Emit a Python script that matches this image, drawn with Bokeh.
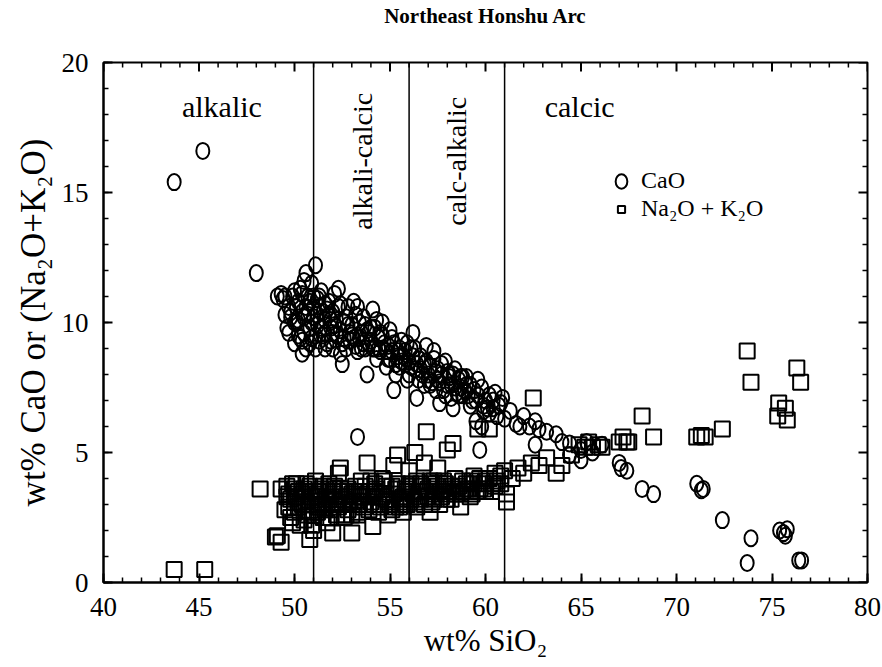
from bokeh.plotting import figure
from bokeh.models import (Span, Label, SingleIntervalTicker, FixedTicker, LinearAxis, Legend, LegendItem,
                          Range1d, ColumnDataSource)
from bokeh.embed import file_html
from bokeh.resources import INLINE

# ---------------- data ----------------
title_text = "Northeast Honshu Arc"
boundaries = [51, 56, 61]
region_names = ["alkalic", "alkali-calcic", "calc-alkalic", "calcic"]

cao_sio2 = [43.7, 45.2, 48.0,
            49.1, 49.3, 49.5, 49.4, 49.7, 49.8, 49.6, 50.0, 50.1, 50.2, 50.3, 50.5, 50.6, 50.4, 50.5, 50.6, 50.4,
            50.8, 50.9, 51.1, 51.0, 50.9, 51.1, 51.2, 51.3, 51.4, 51.5, 51.6, 51.8, 51.7, 51.9, 52.0, 52.1, 52.3,
            52.2, 52.4, 52.5, 52.6, 52.8, 52.9, 53.0, 53.2, 53.3, 53.5, 53.6, 53.8, 53.9, 54.1, 54.0, 54.3, 54.4,
            54.6, 54.8, 54.9, 55.0, 55.2, 55.3, 55.4, 55.6, 55.8, 55.9, 56.1, 56.2, 56.3, 56.4, 56.6, 56.8, 56.9,
            57.1, 57.3, 57.4, 57.6, 57.7, 57.9, 58.0, 58.2, 58.3, 58.4, 58.6, 58.8, 59.0, 59.2, 59.4, 59.6, 59.5,
            59.8, 60.0, 60.2, 60.5, 60.7, 60.9, 61.0, 61.3, 61.6, 62.0, 62.3, 62.6, 62.8, 62.6, 63.2, 63.7, 64.0,
            64.4, 64.4, 65.0, 65.3, 65.0, 65.6, 66.1, 67.0, 67.1, 67.4, 68.2, 68.8, 71.06, 71.3, 71.4, 72.4, 73.9,
            73.7, 75.4, 75.6, 75.8, 75.7, 76.4, 76.55, 53.3, 59.7,
            50.2, 50.7, 51.0, 51.3, 51.6, 51.9, 52.4, 52.7, 53.1, 53.4, 53.7, 54.2, 54.5, 55.1, 55.5, 56.0, 56.5,
            57.0, 57.5, 58.1, 58.7, 59.1, 59.9, 60.4, 61.8,
            49.8, 50.0, 50.2, 50.4, 50.6, 50.8, 51.0, 51.2, 51.4, 51.6, 51.8, 52.0, 52.2, 52.4, 52.6, 52.8, 53.0,
            53.2, 53.4, 53.6, 53.8, 54.0, 54.2, 54.4, 54.6, 54.8, 55.0, 55.2, 55.4, 55.6, 55.8, 56.0, 56.2, 56.4,
            56.6, 56.8, 57.0, 57.2, 57.4, 57.6, 57.8, 58.0, 58.2, 58.4, 58.6, 58.8, 59.0, 59.3, 59.6, 59.9, 60.2,
            60.6,
            49.5, 49.7, 49.9, 50.1, 50.3, 50.5, 50.7, 50.9, 51.1, 51.3, 51.5, 51.7, 51.9, 52.1, 52.3, 52.5, 52.7,
            52.9, 53.1, 53.3, 53.5, 53.7, 53.9, 54.1, 54.3, 54.5, 54.7, 54.9, 55.1, 55.3, 55.5, 55.7, 55.9, 56.1,
            56.3, 56.5, 56.7, 56.9, 57.1, 57.3, 57.5, 57.7, 57.9, 58.1, 58.3, 58.5, 58.7, 58.9, 59.2, 59.5, 59.8,
            60.1, 60.4, 60.8, 50.0, 50.4, 50.8, 51.2, 51.6, 52.0]
cao_wt = [15.4, 16.6, 11.9,
          11.0, 11.1, 11.0, 10.9, 10.6, 10.2, 9.8, 9.2, 10.0, 10.8, 11.3, 11.6, 11.9, 10.4, 9.6, 9.0, 8.8,
          10.8, 11.5, 12.2, 10.2, 9.4, 9.0, 9.9, 10.6, 11.2, 9.5, 10.1, 10.8, 9.2, 9.8, 10.4, 11.1, 11.3,
          9.5, 8.8, 8.4, 10.0, 10.6, 9.3, 9.9, 10.3, 8.9, 9.6, 10.2, 8.0, 9.2, 10.5, 9.8, 8.6, 9.4,
          10.0, 8.3, 9.1, 9.7, 7.4, 8.0, 8.7, 9.3, 8.4, 7.8, 9.0, 9.6, 8.2, 7.1, 8.7, 7.6, 9.1,
          8.3, 8.9, 7.4, 6.9, 8.0, 8.5, 7.6, 7.1, 6.7, 8.2, 7.8, 7.2, 7.9, 6.8, 7.4, 7.8, 6.2,
          6.0, 7.0, 6.5, 7.3, 6.8, 7.1, 6.3, 6.6, 6.1, 6.4, 6.0, 6.2, 5.9, 5.3, 5.8, 5.7, 5.4,
          5.35, 4.9, 5.1, 5.4, 4.7, 5.0, 5.3, 4.6, 4.4, 4.3, 3.6, 3.4, 3.8, 3.55, 3.6, 2.4, 1.7,
          0.75, 2.0, 1.9, 2.05, 1.8, 0.85, 0.85, 5.6, 5.1,
          9.5, 10.3, 11.0, 9.3, 10.7, 10.1, 10.7, 9.0, 10.8, 9.4, 9.0, 9.0, 8.9, 8.9, 8.3, 8.5, 7.8,
          7.8, 8.2, 8.0, 7.5, 7.2, 6.6, 6.7, 6.0,
          10.4, 11.2, 10.1, 9.3, 10.6, 9.8, 10.6, 10.3, 9.8, 9.6, 10.3, 9.6, 10.1, 9.7, 9.4, 9.9, 9.5,
          9.1, 10.0, 9.2, 9.7, 9.3, 9.8, 9.0, 9.5, 8.9, 8.6, 9.2, 8.9, 8.5, 8.9, 8.0, 8.7, 8.4,
          8.2, 8.4, 8.0, 7.7, 8.1, 7.7, 7.4, 8.1, 7.6, 7.5, 7.2, 7.9, 7.6, 7.0, 7.2, 6.8, 7.2,
          6.4,
          10.3, 9.6, 11.0, 10.6, 9.4, 10.2, 11.0, 10.0, 9.5, 11.0, 10.4, 10.5, 9.3, 9.9, 10.6, 9.2, 10.2,
          9.6, 9.4, 10.6, 9.0, 9.9, 9.6, 9.0, 10.1, 9.6, 9.2, 8.6, 9.4, 8.4, 9.0, 8.7, 9.2, 8.3,
          9.0, 8.6, 8.0, 8.5, 7.6, 8.6, 7.8, 8.4, 7.2, 7.9, 8.0, 7.3, 7.9, 7.4, 7.6, 7.0, 7.5,
          6.7, 7.0, 6.9, 10.0, 11.1, 9.2, 10.9, 9.0, 9.0]

alk_sio2 = [43.7, 45.3, 48.2, 49.0, 49.3, 49.1,
            49.3, 49.6, 49.9, 49.8, 50.0, 50.2, 50.3, 50.4, 50.6, 50.7, 50.8, 50.9, 51.0, 51.1, 51.2, 51.3,
            51.5, 51.6, 51.8, 51.9, 52.0, 52.1, 52.3, 52.4, 52.5, 52.6, 52.8, 53.0, 53.1, 53.3, 53.5, 53.6,
            53.8, 53.9, 54.1, 54.2, 54.4, 54.6, 54.7, 54.9, 55.1, 55.2, 55.4, 55.5, 55.7, 55.8, 56.0, 56.1,
            56.3, 56.4, 56.6, 56.8, 56.9, 57.0, 57.1, 57.3, 57.5, 57.6, 57.8, 58.0, 58.3, 58.2, 58.4, 58.7,
            58.8, 59.0, 59.2, 59.4, 59.6, 59.7, 60.0, 60.2, 60.3, 60.5, 60.8, 61.0, 61.1, 61.1, 61.4, 61.7,
            62.0, 62.4, 62.5, 62.8, 63.2, 63.7, 64.0, 64.5, 64.9, 65.2, 65.4, 65.6, 65.9, 66.1, 67.0, 67.2,
            67.4, 67.5, 68.2, 68.8, 71.06, 71.3, 71.5, 72.4, 73.7, 73.9, 75.35, 75.7, 75.3, 75.8, 76.3, 76.5,
            49.7, 50.1, 50.5, 50.9, 51.4, 51.7, 52.2, 52.7, 53.4, 54.0, 54.8, 55.3, 55.9, 56.5, 57.2, 57.9,
            58.6, 59.3, 59.9, 60.6,
            49.6, 49.8, 50.0, 50.2, 50.4, 50.6, 50.8, 51.0, 51.2, 51.4, 51.6, 51.8, 52.0, 52.2, 52.4, 52.6,
            52.8, 53.0, 53.2, 53.4, 53.6, 53.8, 54.0, 54.2, 54.4, 54.6, 54.8, 55.0, 55.2, 55.4, 55.6, 55.8,
            56.0, 56.2, 56.4, 56.6, 56.8, 57.0, 57.2, 57.4, 57.6, 57.8, 58.0, 58.2, 58.5, 58.8, 59.1, 59.4,
            59.7, 60.0, 60.4, 60.8,
            49.5, 49.7, 49.9, 50.1, 50.3, 50.5, 50.7, 50.9, 51.1, 51.3, 51.5, 51.7, 51.9, 52.1, 52.3, 52.5,
            52.7, 52.9, 53.1, 53.3, 53.5, 53.7, 53.9, 54.1, 54.3, 54.5, 54.7, 54.9, 55.1, 55.3, 55.5, 55.7,
            55.9, 56.1, 56.3, 56.5, 56.7, 56.9, 57.1, 57.3, 57.5, 57.7, 57.9, 58.1, 58.4, 58.7, 59.0, 59.3,
            59.6, 59.9, 60.2, 60.5, 50.0, 50.6, 51.2, 51.8, 52.4, 53.0]
alk_wt = [0.5, 0.5, 3.6, 1.75, 1.55, 1.8,
          3.6, 3.7, 3.8, 3.2, 2.7, 3.5, 2.2, 3.0, 3.8, 2.6, 1.65, 3.3, 2.0, 3.9, 2.9, 3.5,
          2.5, 3.2, 3.8, 2.8, 1.9, 3.4, 4.2, 4.4, 3.0, 2.5, 3.6, 1.9, 3.1, 2.7, 3.9, 3.3,
          4.6, 2.8, 2.15, 3.5, 3.0, 4.0, 3.4, 2.6, 3.7, 4.5, 4.9, 3.1, 2.7, 3.6, 4.3, 3.2,
          5.0, 2.9, 3.8, 4.6, 5.8, 3.3, 2.7, 3.9, 4.4, 3.0, 3.6, 5.1, 5.35, 3.2, 4.0, 2.9,
          3.5, 3.8, 3.3, 4.1, 5.9, 3.6, 3.9, 5.9, 3.5, 4.2, 3.8, 4.3, 3.1, 3.4, 4.0, 4.4,
          4.2, 4.6, 7.1, 4.5, 4.8, 4.2, 4.5, 4.9, 5.3, 5.2, 5.4, 5.2, 5.3, 5.2, 5.4, 5.6,
          5.4, 5.4, 6.4, 5.6, 5.6, 5.65, 5.6, 5.9, 8.9, 7.7, 6.9, 6.7, 6.4, 6.25, 8.25, 7.7,
          2.9, 3.3, 2.4, 2.2, 3.0, 2.3, 2.6, 3.3, 3.5, 3.9, 3.2, 2.9, 3.0, 3.5, 3.1, 3.4,
          3.7, 3.4, 3.6, 3.9,
          3.3, 2.5, 3.6, 2.9, 3.4, 3.1, 3.7, 2.6, 3.3, 3.6, 2.8, 3.2, 3.5, 3.0, 3.6, 3.2,
          2.8, 3.4, 3.7, 3.0, 2.9, 3.4, 3.1, 3.8, 2.7, 3.3, 3.7, 3.0, 3.4, 3.8, 3.2, 3.0,
          3.7, 3.4, 3.9, 3.2, 3.0, 3.6, 3.8, 3.4, 3.5, 3.9, 3.2, 3.7, 3.4, 3.9, 3.6, 3.8,
          4.0, 3.5, 3.8, 4.1,
          2.8, 3.4, 2.3, 3.8, 3.1, 3.6, 3.0, 2.7, 3.4, 2.9, 3.7, 3.3, 2.5, 3.7, 2.9, 3.5,
          2.6, 3.1, 3.5, 2.6, 3.3, 3.7, 3.0, 3.3, 3.6, 2.9, 3.9, 3.1, 2.8, 3.6, 2.9, 3.3,
          3.5, 3.8, 3.1, 3.3, 3.7, 3.5, 3.9, 3.2, 3.7, 3.3, 3.8, 3.5, 3.6, 3.4, 3.6, 3.9,
          3.5, 3.8, 4.0, 3.7, 3.1, 3.5, 2.7, 3.6, 3.3, 2.6]

X_START, X_END, X_MAJOR = 40, 80, 5
Y_START, Y_END, Y_MAJOR = 0, 20, 5

FONT = "'Liberation Serif', 'DejaVu Serif', serif"

p = figure(width=882, height=667, output_backend="svg", toolbar_location=None,
           x_range=Range1d(X_START, X_END), y_range=Range1d(Y_START, Y_END),
           min_border_left=103, min_border_right=15, min_border_top=60, min_border_bottom=85,
           x_axis_label="wt% SiO₂", y_axis_label="wt% CaO or (Na₂O+K₂O)")
p.grid.visible = False
p.outline_line_color = "black"
p.outline_line_width = 2
p.background_fill_color = "white"
p.border_fill_color = "white"
p.title.visible = False

x_axis = p.below[0]
y_axis = p.left[0]

# tick-less axis above the frame whose label is the chart title (placed near the top edge)
title_axis = LinearAxis(ticker=FixedTicker(ticks=[]), major_tick_in=0, major_tick_out=0,
                        minor_tick_in=0, minor_tick_out=0, axis_line_color=None,
                        major_tick_line_color=None, minor_tick_line_color=None,
                        axis_label=title_text, axis_label_standoff=35,
                        axis_label_text_font=FONT, axis_label_text_font_size="21px",
                        axis_label_text_font_style="bold", axis_label_text_color="black")
p.add_layout(title_axis, "above")

for ax in (x_axis, y_axis):
    ax.ticker = SingleIntervalTicker(interval=5, num_minor_ticks=5)
    ax.major_tick_in = 9
    ax.major_tick_out = 0
    ax.minor_tick_in = 5
    ax.minor_tick_out = 0
    ax.axis_line_width = 2
    ax.major_tick_line_width = 2
    ax.minor_tick_line_width = 1.5
    ax.major_label_text_font = FONT
    ax.major_label_text_font_size = "27px"
    ax.major_label_text_color = "black"
    ax.axis_label_text_font = FONT
    ax.axis_label_text_font_style = "normal"
    ax.axis_label_text_color = "black"

x_axis.axis_label_text_font_size = "31px"
y_axis.axis_label_text_font_size = "35px"
x_axis.major_label_standoff = 15
x_axis.axis_label_standoff = 4
y_axis.major_label_standoff = 15
y_axis.axis_label_standoff = 6

# inward ticks on the top and right frame edges (same positions as the axes' ticks)
px_per_x = 764 / (X_END - X_START)
px_per_y = 522 / (Y_END - Y_START)
top_x = list(range(X_START, X_END + 1))
top_len = [(9 if v % X_MAJOR == 0 else 5) / px_per_y for v in top_x]
p.segment(x0=top_x, y0=[Y_END] * len(top_x), x1=top_x, y1=[Y_END - d for d in top_len],
          line_color="black", line_width=[2 if v % X_MAJOR == 0 else 1.5 for v in top_x])
right_y = list(range(Y_START, Y_END + 1))
right_len = [(9 if v % Y_MAJOR == 0 else 5) / px_per_x for v in right_y]
p.segment(x0=[X_END] * len(right_y), y0=right_y, x1=[X_END - d for d in right_len], y1=right_y,
          line_color="black", line_width=[2 if v % Y_MAJOR == 0 else 1.5 for v in right_y])

for b in boundaries:
    p.add_layout(Span(location=b, dimension="height", line_color="black", line_width=1.5))

# region labels
lab_kw = dict(text_font=FONT, text_color="black", text_baseline="middle")
p.add_layout(Label(x=46.2, y=18.3, text=region_names[0], text_font_size="30px", text_align="center", **lab_kw))
p.add_layout(Label(x=53.55, y=16.2, text=region_names[1], text_font_size="28px", text_align="center",
                   angle=90, angle_units="deg", **lab_kw))
p.add_layout(Label(x=58.5, y=16.2, text=region_names[2], text_font_size="28px", text_align="center",
                   angle=90, angle_units="deg", **lab_kw))
p.add_layout(Label(x=63.1, y=18.3, text=region_names[3], text_font_size="30px", text_align="left", **lab_kw))

src_c = ColumnDataSource(dict(x=cao_sio2, y=cao_wt))
src_a = ColumnDataSource(dict(x=alk_sio2, y=alk_wt))
rc = p.ellipse("x", "y", width=13, height=16, width_units="screen", height_units="screen",
               fill_color=None, line_color="black", line_width=2, source=src_c)
ra = p.scatter("x", "y", marker="square", size=15, fill_color=None, line_color="black",
               line_width=2, source=src_a)

legend = Legend(items=[LegendItem(label="CaO", renderers=[rc]),
                       LegendItem(label="Na₂O + K₂O", renderers=[ra])],
                location=(509, 360), label_text_font=FONT, label_text_font_size="24px",
                label_text_color="black",
                border_line_alpha=0, background_fill_alpha=0, padding=0, margin=0,
                spacing=1, glyph_width=18, glyph_height=22, label_standoff=11, label_height=24)
p.add_layout(legend)

open("out.html", "w").write(file_html(p, INLINE))
